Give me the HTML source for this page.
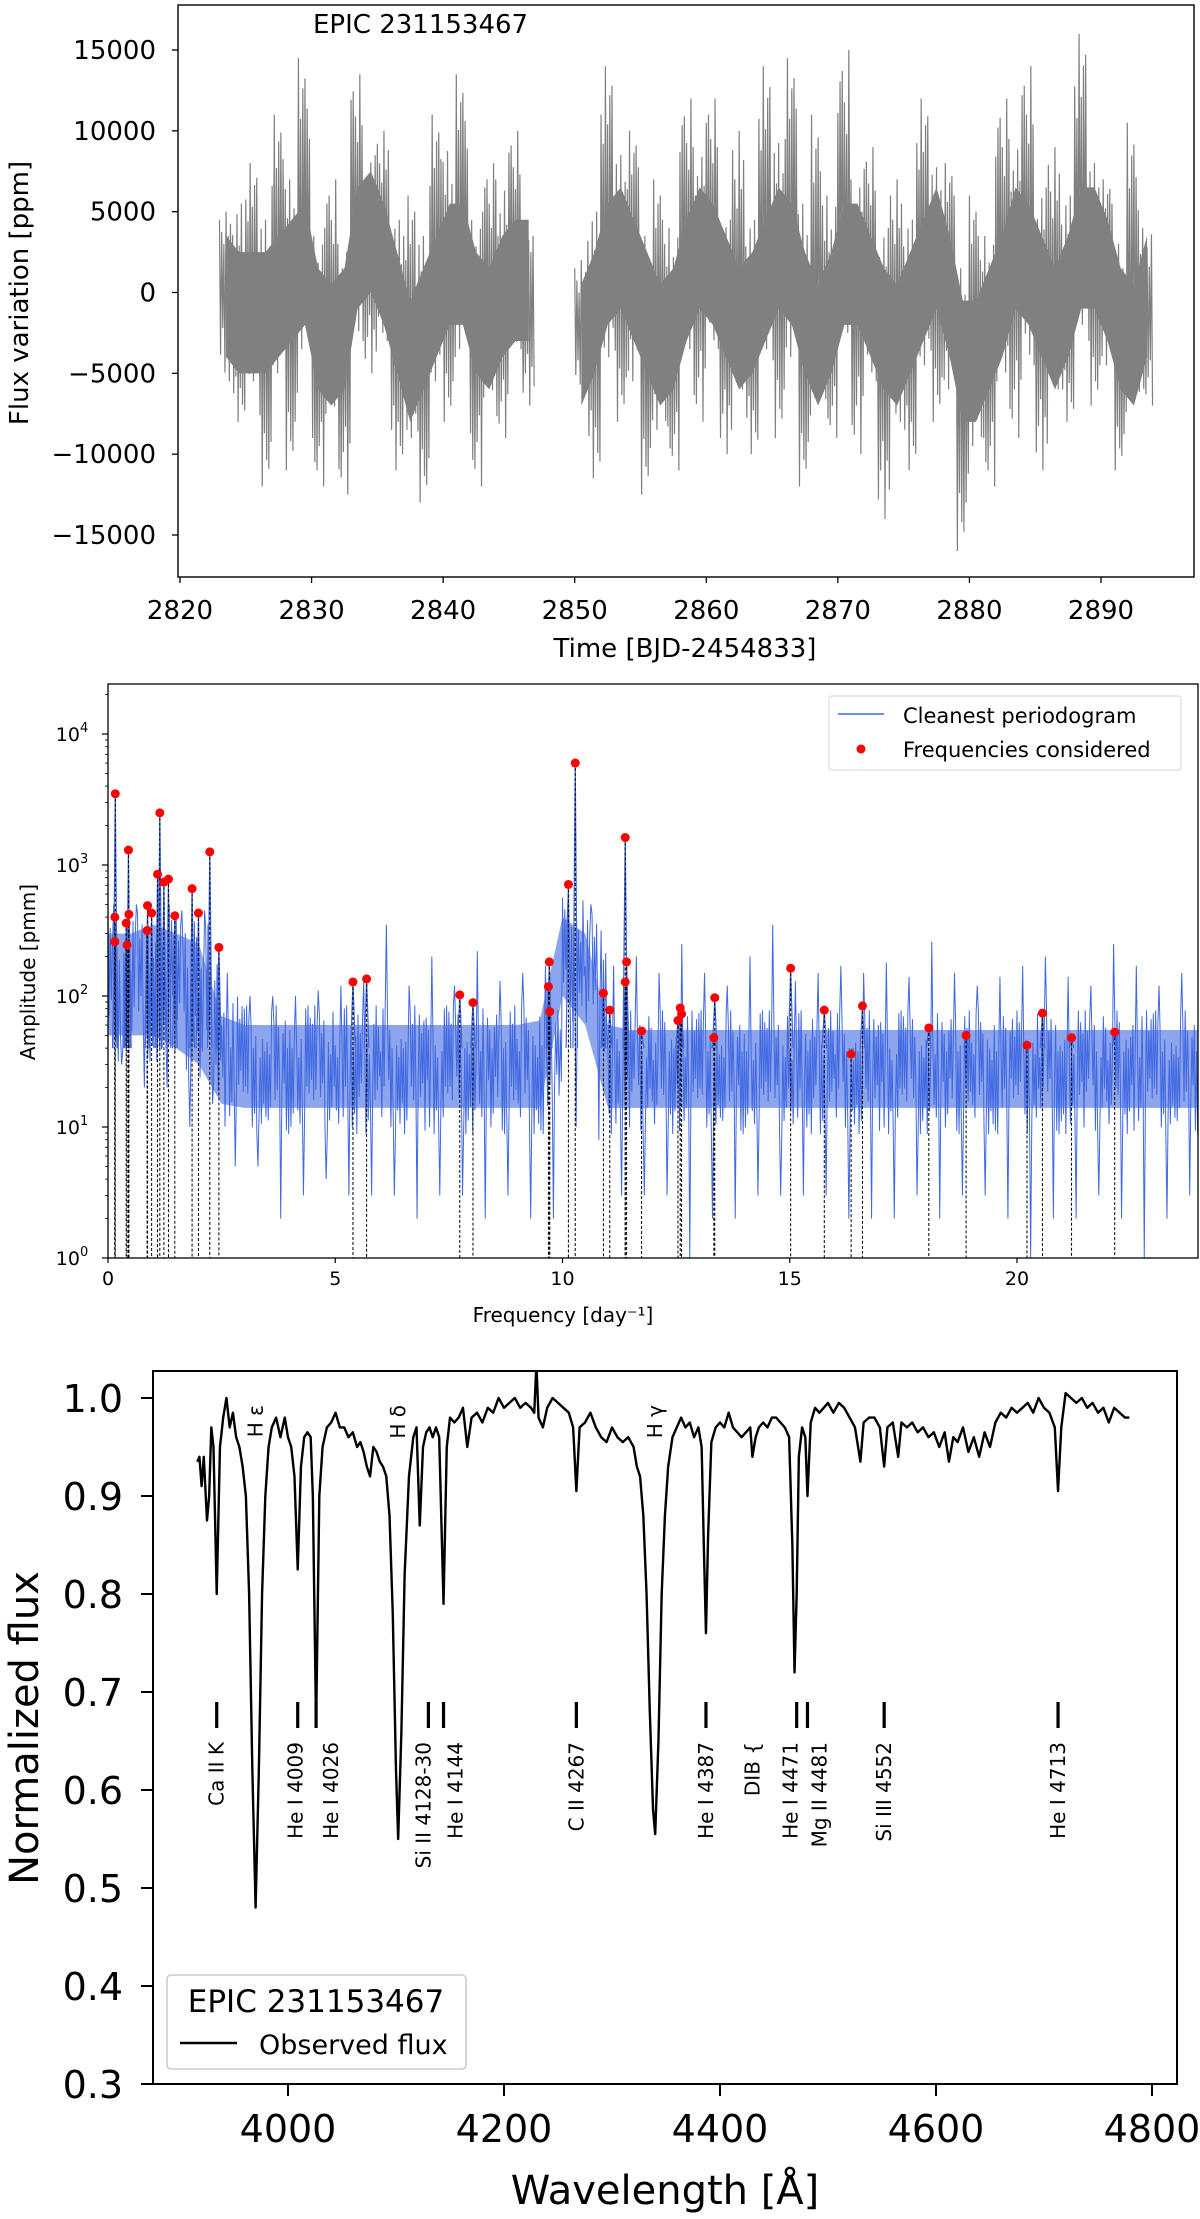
<!DOCTYPE html>
<html><head><meta charset="utf-8"><style>
html,body{margin:0;padding:0;background:#fff}
svg{display:block;font-family:"DejaVu Sans","Liberation Sans",sans-serif}
</style></head><body>
<svg id="fig" width="1200" height="2219" viewBox="0 0 1200 2219" xmlns="http://www.w3.org/2000/svg">
<g id="p1"></g>
<g id="p2"></g>
<g id="p3"></g>
</svg>
<script>
// ---------- Panel 1 data: light curve (daily envelope, thousands of ppm) ----------
const lcDays1 = [2823,2824,2825,2826,2827,2828,2829,2830,2831,2832,2833,2834,2835,2836,2837,2838,2839,2840,2841,2842,2843,2844,2845,2846];
const lcHi1 = [5,12,8,10,11,13,14.5,9,7,8,13.5,13,10,10,6,9,11,15.5,13.5,10,8,14,10,6];
const lcLo1 = [-11,-8,-10,-12,-10,-11,-9,-12,-12,-12.5,-9,-5,-8,-11,-14,-13,-11,-8,-9,-12,-11,-9,-8,-7];
const lcMean1 = [0,-1,-1,-1,0,1,2,-2,-3,-2,3,4,2,-1,-4,-2,0,2,2,-1,-2,0,1,1];
const lcDays2 = [2850,2851,2852,2853,2854,2855,2856,2857,2858,2859,2860,2861,2862,2863,2864,2865,2866,2867,2868,2869,2870,2871,2872,2873,2874,2875,2876,2877,2878,2879,2880,2881,2882,2883,2884,2885,2886,2887,2888,2889,2890,2891,2892,2893];
const lcHi2 = [2,11,14,14,10,8,7,10,12,15,12,9,10,10,14,15.5,14.5,12,11,13,15,12,9,10,7,10,12,12.5,8,7,6,9,12,16,14,13,9,12,16,13,7,8,10.5,8];
const lcLo2 = [-9,-11.5,-10,-8,-12,-12.5,-14,-11,-9,-8,-9,-10,-10,-10,-8,-9,-10,-12,-10,-9,-8,-10,-11,-14,-13,-11,-10,-8,-12,-16,-15,-12,-11,-9,-11,-11,-10,-8,-7,-7,-10,-11,-10,-7];
const lcMean2 = [-3,-1,2,3,1,-1,-3,-2,1,3,2,0,-2,-1,1,3,2,-1,-3,-1,2,2,0,-2,-3,-1,1,3,0,-4,-4,-2,0,3,2,0,-2,0,3,3,1,-2,-3,0];
const lcXTicks = [2820,2830,2840,2850,2860,2870,2880,2890];
const lcYTicks = [-15000,-10000,-5000,0,5000,10000,15000];

// ---------- Panel 2 data: periodogram ----------
const pgBinF = [0,0.5,1,1.5,2,2.5,3,3.5,4,4.5,5,5.5,6,6.5,7,7.5,8,8.5,9,9.5,10,10.5,11,11.5,12,12.5,13,13.5,14,14.5,15,15.5,16,16.5,17,17.5,18,18.5,19,19.5,20,20.5,21,21.5,22,22.5,23,23.5,24];
const pgHi = [500,500,800,450,450,150,100,100,100,110,120,130,350,120,200,120,220,130,150,170,600,500,170,200,150,250,150,120,200,350,130,150,170,150,180,140,260,150,120,140,170,200,140,120,250,170,120,150,100];
const pgLo = [30,20,20,10,15,5,5,2,3,4,3,3,3,2,3,3,2,3,2,2,10,8,3,3,3,1,2,2,3,3,3,3,2,2,2,3,2,3,3,2,1,2,2,3,2,1,2,3,5];
const pgCoreHi = [300,300,350,300,250,70,60,60,60,60,60,60,60,60,60,60,60,60,60,65,400,300,60,55,55,55,55,55,55,55,55,55,55,55,55,55,55,55,55,55,55,55,55,55,55,55,55,55,55];
const pgCoreLo = [50,50,50,40,30,15,14,14,14,14,14,14,14,14,14,14,14,14,14,14,100,60,14,14,14,14,14,14,14,14,14,14,14,14,14,14,14,14,14,14,14,14,14,14,14,14,14,14,14];
const freqF = [0.16,0.15,0.15,0.45,0.46,0.40,0.42,0.87,0.86,0.96,1.14,1.09,1.23,1.33,1.47,1.85,1.99,2.24,2.44,5.39,5.69,7.74,8.03,9.71,9.69,9.72,10.13,10.28,10.90,11.04,11.38,11.41,11.38,11.74,12.54,12.59,12.62,13.35,13.33,15.02,15.76,16.35,16.60,18.06,18.88,20.22,20.56,21.20,22.15];
const freqA = [3500,400,260,1300,420,360,245,490,316,430,2500,850,740,780,410,660,430,1260,235,128,135,102,89,182,118,76,710,6000,105,78,1620,182,128,54,65,81,73,97,48,163,78,36,84,57,50,42,74,48,53];
const pgXTicks = [0,5,10,15,20];
const pgYTicks = [0,1,2,3,4];

// ---------- Panel 3 data: spectrum ----------
const specW = [3916,3918,3920,3922,3925,3927,3929,3931,3934,3937,3940,3943,3946,3949,3952,3955,3958,3961,3964,3967,3970,3973,3976,3979,3982,3985,3989,3993,3997,4000,4003,4006,4009,4012,4015,4018,4021,4023,4026,4029,4032,4036,4040,4044,4048,4052,4056,4060,4064,4067,4070,4073,4076,4079,4082,4085,4088,4091,4094,4097,4100,4102,4105,4108,4112,4116,4119,4122,4125,4128,4131,4134,4137,4140,4144,4147,4150,4154,4158,4162,4166,4170,4175,4180,4185,4190,4195,4200,4205,4210,4215,4220,4225,4228,4230,4232,4236,4240,4245,4250,4255,4260,4264,4267,4270,4275,4280,4285,4290,4295,4300,4305,4310,4315,4320,4323,4326,4329,4332,4335,4338,4340,4343,4346,4349,4352,4356,4360,4364,4368,4372,4376,4380,4383,4385,4387,4389,4392,4396,4400,4404,4408,4412,4416,4420,4424,4428,4430,4433,4436,4440,4444,4448,4452,4456,4460,4464,4467,4469,4471,4473,4476,4479,4481,4484,4488,4492,4496,4500,4505,4510,4515,4520,4525,4530,4533,4538,4543,4548,4552,4555,4560,4565,4568,4573,4578,4583,4588,4593,4598,4603,4608,4612,4616,4620,4625,4630,4635,4640,4645,4650,4655,4660,4665,4670,4675,4680,4685,4690,4695,4700,4705,4710,4713,4716,4720,4725,4730,4735,4740,4745,4750,4755,4760,4765,4770,4775,4779];
const specF = [0.935,0.94,0.91,0.94,0.875,0.90,0.97,0.95,0.80,0.95,0.98,1.00,0.97,0.985,0.96,0.95,0.93,0.90,0.80,0.62,0.48,0.62,0.80,0.90,0.95,0.97,0.98,0.96,0.98,0.96,0.95,0.92,0.825,0.93,0.96,0.965,0.96,0.90,0.665,0.90,0.95,0.97,0.975,0.985,0.97,0.97,0.96,0.965,0.95,0.955,0.945,0.93,0.92,0.95,0.945,0.935,0.93,0.92,0.88,0.78,0.62,0.55,0.66,0.82,0.92,0.96,0.97,0.87,0.95,0.965,0.97,0.96,0.97,0.96,0.79,0.95,0.98,0.975,0.98,0.99,0.95,0.98,0.985,0.975,0.99,0.985,1.0,0.99,0.995,1.0,0.99,0.995,0.99,0.985,1.035,0.98,0.97,0.99,1.0,0.995,0.99,0.985,0.97,0.905,0.97,0.975,0.985,0.97,0.96,0.955,0.97,0.96,0.955,0.96,0.95,0.93,0.92,0.88,0.80,0.68,0.58,0.555,0.65,0.80,0.88,0.93,0.96,0.97,0.98,0.97,0.975,0.96,0.97,0.95,0.85,0.76,0.86,0.955,0.97,0.975,0.97,0.985,0.97,0.965,0.96,0.965,0.97,0.94,0.96,0.97,0.975,0.97,0.98,0.98,0.975,0.97,0.96,0.85,0.72,0.80,0.94,0.97,0.96,0.90,0.975,0.99,0.985,0.99,0.995,0.985,0.995,0.99,0.98,0.97,0.935,0.975,0.98,0.98,0.97,0.93,0.97,0.975,0.94,0.975,0.97,0.975,0.965,0.97,0.96,0.965,0.95,0.965,0.935,0.96,0.955,0.97,0.945,0.96,0.94,0.965,0.95,0.975,0.985,0.98,0.99,0.985,0.99,0.995,0.985,1.0,0.99,0.985,0.97,0.905,0.97,1.005,1.0,0.995,1.0,0.99,0.995,0.985,0.99,0.975,0.99,0.985,0.98,0.98];
const lineLabels = ["Ca II K","He I 4009","He I 4026","Si II 4128-30","He I 4144","C II 4267","He I 4387","DIB {","He I 4471","Mg II 4481","Si III 4552","He I 4713"];
const lineW = [3934,4009,4026,4130,4144,4267,4387,4430,4471,4481,4552,4713];
const lineHasBar = [1,1,1,1,1,1,1,0,1,1,1,1];
const hLabels = ["H ε","H δ","H γ"];
const hW = [3970,4102,4340];
const specXTicks = [4000,4200,4400,4600,4800];
const specYTicks = [0.3,0.4,0.5,0.6,0.7,0.8,0.9,1.0];

const NS = "http://www.w3.org/2000/svg";
function mk(parent, tag, attrs, text){
  const e = document.createElementNS(NS, tag);
  for (const k in attrs) e.setAttribute(k, attrs[k]);
  if (text !== undefined) e.textContent = text;
  parent.appendChild(e);
  return e;
}
function lin(d0,d1,r0,r1){ return v => r0 + (v-d0)/(d1-d0)*(r1-r0); }

// ================= Panel 1 =================
(function(){
  const g = document.getElementById('p1');
  const L=178,R=1194,T=5,B=577;
  const x = lin(2820,2890,180,1101);
  const y = lin(-15000,15000,535,50);
  const clip = mk(g,'clipPath',{id:'c1'}); mk(clip,'rect',{x:L,y:T,width:R-L,height:B-T});
  const dg = mk(g,'g',{'clip-path':'url(#c1)'});
  const fr0=[0.9,0.35,0.75,0.2,0.6,0.45,1.0,0.3,0.7,0.5,0.85,0.25];
  function seg(days,hi,lo,mean,name){
    let top=[],bot=[];
    for(let i=0;i<days.length;i++){
      top.push(x(days[i]+0.5)+','+y((mean[i]+3.5)*1000));
      bot.unshift(x(days[i]+0.5)+','+y((mean[i]-4)*1000));
    }
    const band = mk(dg,'polygon',{points:top.concat(bot).join(' '),fill:'#808080'});
    
    
    let pts=[];
    for(let i=0;i<days.length;i++){
      const d=days[i], m=mean[i]*1000;
      for(let k=0;k<12;k++){
        const f=fr0[(k+i)%12];
        const v = (k%2===0) ? m+(hi[i]*1000-m)*f : m+(lo[i]*1000-m)*f;
        pts.push(x(d+k/12)+','+y(v));
      }
    }
    const pl = mk(dg,'polyline',{points:pts.join(' '),fill:'none',stroke:'#808080','stroke-width':1.2});
    
    
  }
  seg(lcDays1,lcHi1,lcLo1,lcMean1,'light-curve-segment-1');
  seg(lcDays2,lcHi2,lcLo2,lcMean2,'light-curve-segment-2');
  const fr = mk(g,'rect',{x:L,y:T,width:R-L,height:B-T,fill:'none',stroke:'#000','stroke-width':1.4});
   
  lcXTicks.forEach(v=>{
    mk(g,'line',{x1:x(v),x2:x(v),y1:B,y2:B+6,stroke:'#000','stroke-width':1.3});
    const t=mk(g,'text',{x:x(v),y:619,'text-anchor':'middle','font-size':26,fill:'#000'},String(v));
     
  });
  lcYTicks.forEach(v=>{
    mk(g,'line',{x1:L-6,x2:L,y1:y(v),y2:y(v),stroke:'#000','stroke-width':1.3});
    const t=mk(g,'text',{x:L-22,y:y(v)+9,'text-anchor':'end','font-size':26,fill:'#000'},String(v).replace('-','−'));
     
  });
  const xl=mk(g,'text',{x:685,y:657,'text-anchor':'middle','font-size':26,fill:'#000'},'Time [BJD-2454833]');
   
  const yl=mk(g,'text',{x:0,y:0,transform:'translate(28,293) rotate(-90)','text-anchor':'middle','font-size':26,fill:'#000'},'Flux variation [ppm]');
   
  const tt=mk(g,'text',{x:313,y:33,'font-size':26,fill:'#000'},'EPIC 231153467');
   
})();

// ================= Panel 2 =================
(function(){
  const g = document.getElementById('p2');
  const L=108,R=1198,T=684,B=1258;
  const x = lin(0,20,108,1017);
  const ly = lin(0,4,1258,734);
  const y = a => ly(Math.log10(a));
  const clip = mk(g,'clipPath',{id:'c2'}); mk(clip,'rect',{x:L,y:T,width:R-L,height:B-T});
  const dg = mk(g,'g',{'clip-path':'url(#c2)'});
  let top=[],bot=[];
  for(let i=0;i<pgBinF.length;i++){
    top.push(x(pgBinF[i])+','+y(pgCoreHi[i]));
    bot.unshift(x(pgBinF[i])+','+y(pgCoreLo[i]));
  }
  const band=mk(dg,'polygon',{points:top.concat(bot).join(' '),fill:'#4169e1','fill-opacity':0.6});
   
  const fr0=[1,0.4,0.8,0.2,0.6,0.9,0.3,0.7,0.5,1,0.35,0.65,0.15,0.85,0.45,0.55,0.25,0.75,0.95,0.3];
  let pts=[];
  for(let i=0;i<pgBinF.length-1;i++){
    const f0=pgBinF[i], n=20;
    const lh=Math.log10(pgHi[i]), ll=Math.log10(pgLo[i]);
    const ch=Math.log10(pgCoreHi[i]), cl=Math.log10(pgCoreLo[i]);
    const mid=(ch+cl)/2;
    for(let k=0;k<n;k++){
      const f=f0+0.5*k/n;
      const fr=fr0[(k+i*3)%20];
      let la;
      if(k===5) la=lh; else if(k===12) la=ll;
      else la = (k%2===0)? mid+(ch-mid+0.15)*fr : mid-(mid-cl+0.2)*fr;
      pts.push(x(f)+','+ly(la));
    }
  }
  const pl=mk(dg,'polyline',{points:pts.join(' '),fill:'none',stroke:'#4169e1','stroke-width':1});
   
  freqF.forEach((f,i)=>{
    const p=mk(dg,'polyline',{points:[x(f-0.05)+','+y(40),x(f)+','+y(freqA[i]),x(f+0.05)+','+y(40)].join(' '),fill:'none',stroke:'#4169e1','stroke-width':1.2});
     
  });
  freqF.forEach((f,i)=>{
    const d=mk(dg,'line',{x1:x(f),x2:x(f),y1:y(freqA[i]),y2:B,stroke:'#000','stroke-width':1,'stroke-dasharray':'3,2'});
     
  });
  freqF.forEach((f,i)=>{
    const c=mk(dg,'circle',{cx:x(f),cy:y(freqA[i]),r:4.5,fill:'#ff0000'});
     
  });
  const fr=mk(g,'rect',{x:L,y:T,width:R-L,height:B-T,fill:'none',stroke:'#000','stroke-width':1.3});
   
  pgXTicks.forEach(v=>{
    mk(g,'line',{x1:x(v),x2:x(v),y1:B,y2:B+5,stroke:'#000','stroke-width':1.2});
    const t=mk(g,'text',{x:x(v),y:B+27,'text-anchor':'middle','font-size':19,fill:'#000'},String(v));
     
  });
  pgYTicks.forEach(v=>{
    mk(g,'line',{x1:L-6,x2:L,y1:ly(v),y2:ly(v),stroke:'#000','stroke-width':1.2});
    for(let m=2;m<10;m++){const yy=ly(v+Math.log10(m)); if(yy>T) mk(g,'line',{x1:L-3,x2:L,y1:yy,y2:yy,stroke:'#000','stroke-width':0.8});}
    const t=mk(g,'text',{x:L-36,y:ly(v)+7,'text-anchor':'middle','font-size':19,fill:'#000'});
     
    mk(t,'tspan',{},'10'); mk(t,'tspan',{dy:-9,'font-size':13},String(v));
  });
  const xl=mk(g,'text',{x:563,y:1322,'text-anchor':'middle','font-size':20,fill:'#000'},'Frequency [day⁻¹]');
   
  const yl=mk(g,'text',{x:0,y:0,transform:'translate(35,972) rotate(-90)','text-anchor':'middle','font-size':20,fill:'#000'},'Amplitude [pmm]');
   
  const lg=mk(g,'g',{});  
  mk(lg,'rect',{x:829,y:696,width:352,height:74,rx:3,fill:'#fff','fill-opacity':0.85,stroke:'#ddd','stroke-width':1.2});
  mk(lg,'line',{x1:838,x2:884,y1:714,y2:714,stroke:'#4169e1','stroke-width':1.5});
  const e1=mk(lg,'text',{x:903,y:723,'font-size':21,fill:'#000'},'Cleanest periodogram');
   
  mk(lg,'circle',{cx:861,cy:749,r:4.5,fill:'#ff0000'});
  const e2=mk(lg,'text',{x:903,y:757,'font-size':21,fill:'#000'},'Frequencies considered');
   
})();

// ================= Panel 3 =================
(function(){
  const g = document.getElementById('p3');
  const L=153,R=1177,T=1371,B=2084;
  const x = lin(4000,4800,288,1152);
  const y = lin(0.3,1.0,2084,1398);
  const labelDx = [0,-2,15,-5,12,0,0,0,-6,12,0,0];
  const clip = mk(g,'clipPath',{id:'c3'}); mk(clip,'rect',{x:L,y:T-1,width:R-L,height:B-T+1});
  const dg = mk(g,'g',{'clip-path':'url(#c3)'});
  const pts = specW.map((w,i)=>x(w)+','+y(specF[i]));
  const pl=mk(dg,'polyline',{points:pts.join(' '),fill:'none',stroke:'#000','stroke-width':2.4,'stroke-linejoin':'round'});
   
  lineW.forEach((w,i)=>{
    if(lineHasBar[i]){
      const b=mk(g,'line',{x1:x(w),x2:x(w),y1:1702,y2:1728,stroke:'#000','stroke-width':3.2});
       
    }
    const t=mk(g,'text',{x:0,y:0,transform:'translate('+(x(w)+labelDx[i])+',1742) rotate(-90)','text-anchor':'end','dominant-baseline':'central','font-size':20,fill:'#000'},lineLabels[i]);
     
  });
  hW.forEach((w,i)=>{
    const t=mk(g,'text',{x:0,y:0,transform:'translate('+x(w)+',1405) rotate(-90)','text-anchor':'end','dominant-baseline':'central','font-size':20,fill:'#000'},hLabels[i]);
     
  });
  const fr=mk(g,'rect',{x:L,y:T,width:R-L,height:B-T,fill:'none',stroke:'#000','stroke-width':2});
   
  specXTicks.forEach(v=>{
    mk(g,'line',{x1:x(v),x2:x(v),y1:B,y2:B+12,stroke:'#000','stroke-width':2});
    const t=mk(g,'text',{x:x(v),y:2142,'text-anchor':'middle','font-size':38,fill:'#000'},String(v));
     
  });
  specYTicks.forEach(v=>{
    mk(g,'line',{x1:L-12,x2:L,y1:y(v),y2:y(v),stroke:'#000','stroke-width':2});
    const t=mk(g,'text',{x:123,y:y(v)+14,'text-anchor':'end','font-size':38,fill:'#000'},v.toFixed(1));
     
  });
  const xl=mk(g,'text',{x:665,y:2204,'text-anchor':'middle','font-size':40,fill:'#000'},'Wavelength [Å]');
   
  const yl=mk(g,'text',{x:0,y:0,transform:'translate(38,1728) rotate(-90)','text-anchor':'middle','font-size':40,fill:'#000'},'Normalized flux');
   
  const lg=mk(g,'g',{});  
  mk(lg,'rect',{x:167,y:1975,width:299,height:94,rx:4,fill:'#fff',stroke:'#ccc','stroke-width':1.6});
  const lt=mk(lg,'text',{x:316,y:2012,'text-anchor':'middle','font-size':31,fill:'#000'},'EPIC 231153467');
   
  mk(lg,'line',{x1:180,x2:237,y1:2043,y2:2043,stroke:'#000','stroke-width':2.4});
  const le=mk(lg,'text',{x:259,y:2054,'font-size':27,fill:'#000'},'Observed flux');
   
})();
</script>
</body></html>
